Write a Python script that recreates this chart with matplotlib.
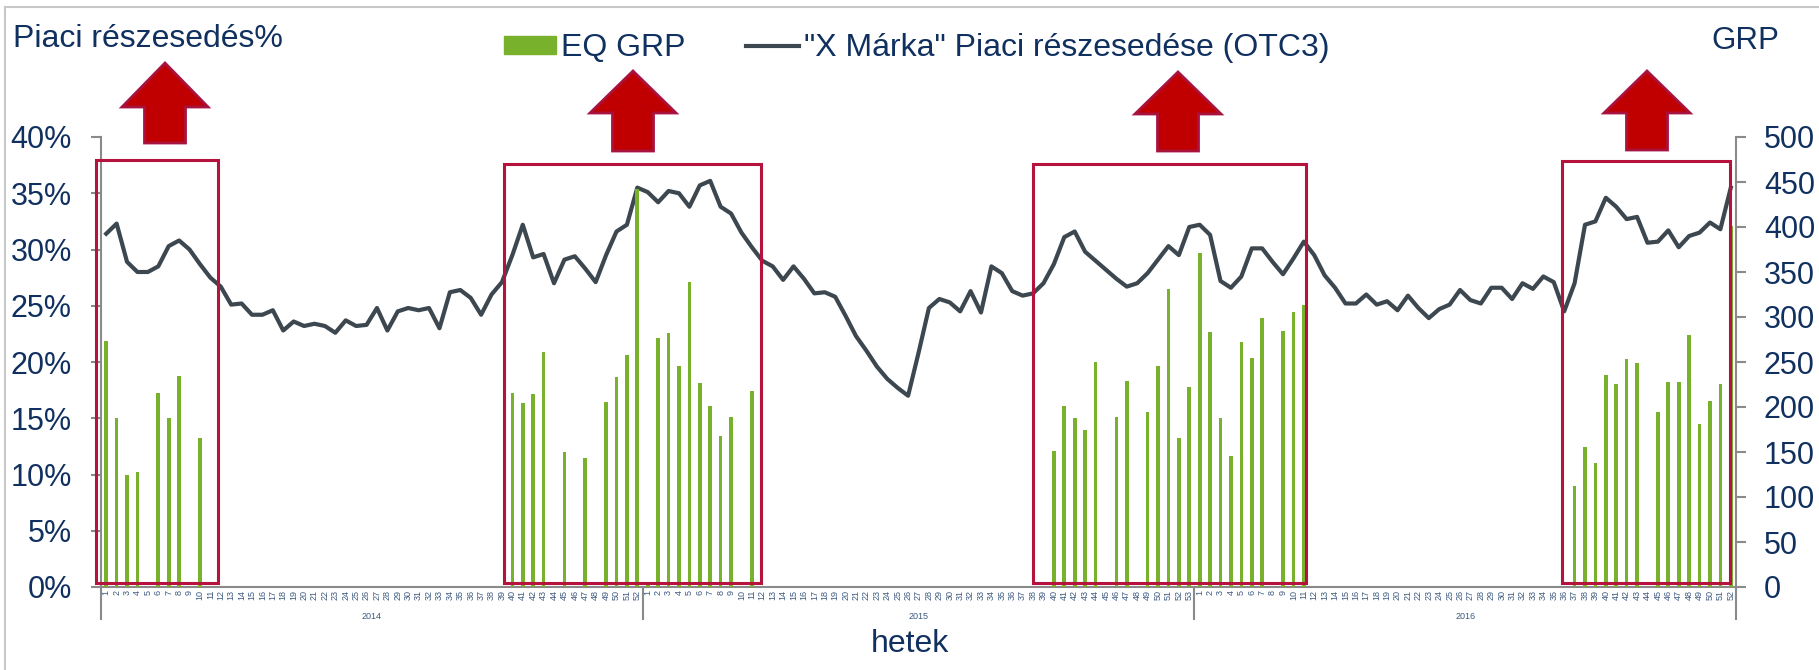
import numpy as np
import matplotlib.pyplot as plt
from matplotlib.patches import Rectangle, Polygon
from matplotlib.lines import Line2D
from matplotlib.transforms import blended_transform_factory

plt.rcParams['font.family'] = ['Liberation Sans', 'DejaVu Sans']

# heti adatok, 2014-2016
years = ['2014', '2015', '2016']
weeks_in_year = [52, 53, 52]

share_2014 = [31.4, 32.3, 28.9, 28.0, 28.0, 28.5, 30.3, 30.8, 30.0, 28.7,
              27.5, 26.7, 25.1, 25.2, 24.2, 24.2, 24.6, 22.8, 23.6, 23.2,
              23.4, 23.2, 22.6, 23.7, 23.2, 23.3, 24.8, 22.8, 24.5, 24.8,
              24.6, 24.8, 23.0, 26.2, 26.4, 25.7, 24.2, 26.0, 27.1, 29.5,
              32.2, 29.3, 29.6, 27.0, 29.1, 29.4, 28.3, 27.1, 29.5, 31.6,
              32.2, 35.5]
share_2015 = [35.1, 34.2, 35.2, 35.0, 33.8, 35.7, 36.1, 33.8, 33.2, 31.5,
              30.2, 29.0, 28.5, 27.3, 28.5, 27.4, 26.1, 26.2, 25.8, 24.1,
              22.3, 21.0, 19.6, 18.5, 17.7, 17.0, 20.8, 24.8, 25.6, 25.3,
              24.5, 26.3, 24.4, 28.5, 27.9, 26.3, 25.9, 26.1, 27.0, 28.7,
              31.1, 31.6, 29.8, 29.0, 28.2, 27.4, 26.7, 27.0, 27.9, 29.1,
              30.3, 29.5, 32.0]
share_2016 = [32.2, 31.3, 27.2, 26.6, 27.6, 30.1, 30.1, 28.9, 27.8, 29.2,
              30.7, 29.5, 27.7, 26.6, 25.2, 25.2, 26.0, 25.1, 25.4, 24.6,
              25.9, 24.8, 23.9, 24.7, 25.1, 26.4, 25.5, 25.2, 26.6, 26.6,
              25.6, 27.0, 26.5, 27.6, 27.1, 24.5, 27.0, 32.2, 32.5, 34.6,
              33.8, 32.7, 32.9, 30.6, 30.7, 31.7, 30.2, 31.2, 31.5, 32.4,
              31.8, 35.5]

grp_2014 = [273, 188, 124, 128, 0, 216, 188, 234, 0, 166,
            0, 0, 0, 0, 0, 0, 0, 0, 0, 0,
            0, 0, 0, 0, 0, 0, 0, 0, 0, 0,
            0, 0, 0, 0, 0, 0, 0, 0, 0, 216,
            204, 214, 261, 0, 150, 0, 143, 0, 206, 233,
            258, 442]
grp_2015 = [3, 277, 282, 246, 339, 227, 201, 168, 189, 0,
            218, 0, 0, 0, 0, 0, 0, 0, 0, 0,
            0, 0, 0, 0, 0, 0, 0, 0, 0, 0,
            0, 0, 0, 0, 0, 0, 0, 0, 0, 151,
            201, 188, 175, 250, 0, 189, 229, 0, 195, 246,
            331, 166, 222]
grp_2016 = [371, 283, 188, 146, 272, 255, 299, 0, 285, 306,
            313, 0, 0, 0, 0, 0, 0, 0, 0, 0,
            0, 0, 0, 0, 0, 0, 0, 0, 0, 0,
            0, 0, 0, 0, 0, 0, 112, 156, 138, 236,
            226, 253, 249, 0, 194, 228, 228, 280, 181, 207,
            226, 401]

share = share_2014 + share_2015 + share_2016
grp = grp_2014 + grp_2015 + grp_2016
week_labels = [str(w) for n in weeks_in_year for w in range(1, n + 1)]

navy = '#10305F'
gray = '#8A8A8A'
green = '#78B22C'
line_col = '#3C474F'
red_edge = '#B5123E'

W, H = 1819, 670
fig = plt.figure(figsize=(W / 100, H / 100), dpi=100)
ax = fig.add_axes([101 / W, 1 - 587 / H, 1635 / W, 450 / H])
ax2 = ax.twinx()

x = np.arange(len(share))
ax.plot(x, share, color=line_col, lw=3, zorder=3, solid_joinstyle='round')
ax2.bar(x, grp, width=0.35, color=green, zorder=2)

ax.set_xlim(-0.5, len(share) - 0.5)
ax.set_ylim(0, 40)
ax2.set_ylim(0, 500)

ax.set_yticks(range(0, 41, 5))
ax.set_yticklabels([f'{v}%' for v in range(0, 41, 5)])
ax2.set_yticks(range(0, 501, 50))

ax.set_xticks(x)
ax.set_xticklabels(week_labels, rotation=90)
ax.tick_params(axis='x', length=0, pad=2, labelsize=6.5, labelcolor='#3D5A80')
ax.tick_params(axis='y', direction='out', length=7, width=1.5, color=gray,
               labelsize=22, labelcolor=navy, pad=14)
ax2.tick_params(axis='y', direction='out', length=7, width=1.5, color=gray,
                labelsize=22, labelcolor=navy, pad=13)

for s in ['top', 'right']:
    ax.spines[s].set_visible(False)
for s in ['top', 'left', 'bottom']:
    ax2.spines[s].set_visible(False)
ax.spines['left'].set_color(gray)
ax.spines['bottom'].set_color(gray)
ax2.spines['right'].set_color(gray)
for sp in [ax.spines['left'], ax.spines['bottom'], ax2.spines['right']]:
    sp.set_linewidth(1.5)

# évhatárok és évcímkék
trans = blended_transform_factory(ax.transData, ax.transAxes)
bounds = np.cumsum([0] + weeks_in_year) - 0.5
for b in bounds:
    ax.plot([b, b], [-0.07, 0], transform=trans, color=gray, lw=1.5, clip_on=False)
for i, yr in enumerate(years):
    ax.text((bounds[i] + bounds[i + 1]) / 2, -0.065, yr, transform=trans,
            ha='center', va='center', fontsize=6.5, color='#3D5A80')

# kampányidőszakok keretei
for x0, x1, top in [(-0.97, 10.72, 37.98), (38.2, 62.9, 37.6),
                    (89.0, 115.2, 37.6), (139.8, 155.9, 37.9)]:
    ax2.add_patch(Rectangle((x0, 0.35), x1 - x0, top - 0.35, fill=False,
                            ec=red_edge, lw=2.2, transform=ax.transData,
                            clip_on=False, zorder=10))
ax2.set_ylim(0, 500)


def up_arrow(cx, tip, base, bottom, head_w=86, shaft_w=41):
    pts = [(cx, tip), (cx + head_w / 2, base), (cx + shaft_w / 2, base),
           (cx + shaft_w / 2, bottom), (cx - shaft_w / 2, bottom),
           (cx - shaft_w / 2, base), (cx - head_w / 2, base)]
    pts = [(px / W, 1 - py / H) for px, py in pts]
    fig.patches.append(Polygon(pts, closed=True, fc='#C00000', ec='#A8123F',
                               lw=2, transform=fig.transFigure, joinstyle='miter'))


up_arrow(165, 63, 107, 143)
up_arrow(633, 71, 113, 151)
up_arrow(1178, 72, 114, 151)
up_arrow(1647, 71, 113, 150)

# keret a kép szélén
fig.lines.append(Line2D([5 / W, 5 / W], [0, 1 - 7 / H], transform=fig.transFigure,
                        color='#C8C8C8', lw=1.5))
fig.lines.append(Line2D([5 / W, 1], [1 - 7 / H, 1 - 7 / H], transform=fig.transFigure,
                        color='#C8C8C8', lw=1.5))

handles = [Rectangle((0, 0), 1, 1, color=green), Line2D([], [], color=line_col, lw=3)]
fig.legend(handles, ['EQ GRP', '"X Márka" Piaci részesedése (OTC3)'],
           loc='center', bbox_to_anchor=(0.5039, 0.928), ncol=2, frameon=False,
           fontsize=23, handlelength=1.65, handleheight=0.5, handletextpad=0.15,
           columnspacing=1.9, borderpad=0, labelcolor=navy)

fig.text(13 / W, 1 - 46.7 / H, 'Piaci részesedés%', fontsize=23, color=navy,
         ha='left', va='baseline')
fig.text(1711.7 / W, 1 - 49.3 / H, 'GRP', fontsize=22.5, color=navy,
         ha='left', va='baseline')
fig.text(0.5003, 1 - 652 / H, 'hetek', fontsize=23, color=navy,
         ha='center', va='baseline')

fig.savefig('out.png', dpi=100, facecolor='white')
